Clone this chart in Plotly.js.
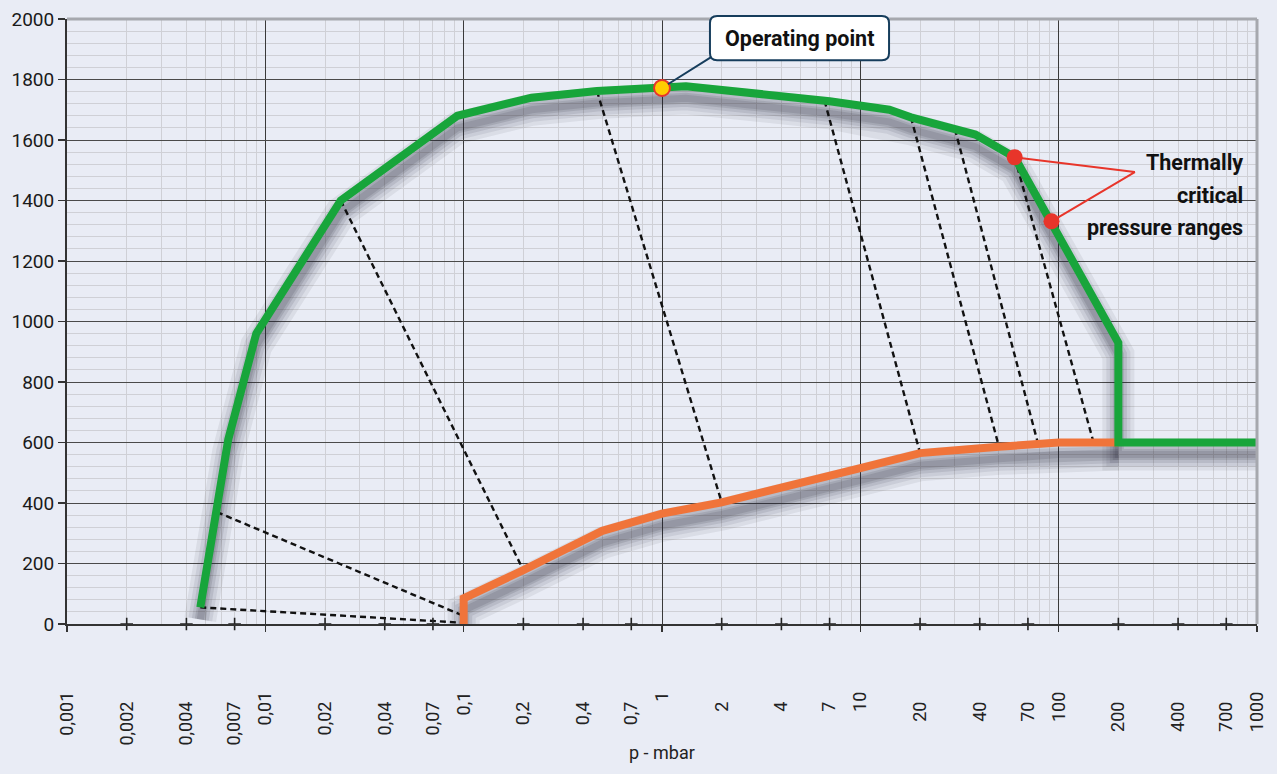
<!DOCTYPE html>
<html>
<head>
<meta charset="utf-8">
<script src="https://cdn.plot.ly/plotly-3.0.1.min.js"></script>
<style>
  html, body { margin: 0; padding: 0; background: #e9ecf5; }
  #chart { width: 1277px; height: 774px; }
</style>
</head>
<body>
<div id="chart"></div>
<script>
// ---- data ----
const greenP = [0.0047, 0.0065, 0.009, 0.024, 0.093, 0.22, 0.47, 1, 1.32, 7, 10, 14, 18, 30, 38, 60, 200, 200, 1000];
const greenT = [55, 610, 960, 1400, 1680, 1740, 1762, 1772, 1778, 1728, 1716, 1700, 1675, 1636, 1618, 1543, 930, 600, 600];

const orangeP = [0.1, 0.1, 0.2, 0.5, 1, 2, 10, 20, 50, 80, 100, 200];
const orangeT = [0, 85, 178, 308, 365, 402, 515, 565, 586, 592, 600, 600];

const dashFromP = [0.0047, 0.0057, 0.024, 0.47, 6.6, 18, 30, 60];
const dashFromT = [55, 370, 1400, 1762, 1730, 1675, 1636, 1543];
const dashToP   = [0.1, 0.099, 0.2, 2, 20, 50, 79, 150];
const dashToT   = [4, 28, 178, 402, 565, 586, 592, 600];

const criticalP = [60, 92];
const criticalT = [1543, 1331];
const calloutApexP = 242;
const calloutApexT = 1494;

const operatingP = [1];
const operatingT = [1772];

const decadeVals = [0.001, 0.01, 0.1, 1, 10, 100, 1000];
const decadeText = ['0,001', '0,01', '0,1', '1', '10', '100', '1000'];
const midVals = [0.002, 0.004, 0.007, 0.02, 0.04, 0.07, 0.2, 0.4, 0.7, 2, 4, 7, 20, 40, 70, 200, 400, 700];
const midText = ['0,002', '0,004', '0,007', '0,02', '0,04', '0,07', '0,2', '0,4', '0,7', '2', '4', '7', '20', '40', '70', '200', '400', '700'];
const yTickVals = [0, 200, 400, 600, 800, 1000, 1200, 1400, 1600, 1800, 2000];

// ---- build ----
const minorGrid = [];
decadeVals.slice(0, -1).forEach(d => { for (let k = 2; k <= 9; k++) minorGrid.push(d * k); });

const dashX = [], dashY = [];
dashFromP.forEach((p, i) => {
  dashX.push(p, dashToP[i], null);
  dashY.push(dashFromT[i], dashToT[i], null);
});

const FONT = 'Roboto, "Open Sans", sans-serif';
const bg = '#e9ecf5';
const GREEN = '#18a53b';
const ORANGE = '#f0743a';

// soft drop shadow: same data drawn on a slightly offset, hidden axis (y), underneath the real lines (y2)
const shadowLayers = [[32, 0.07], [24, 0.08], [17, 0.10], [11, 0.12], [7, 0.12]];
const shadowTraces = [];
[[orangeP, orangeT], [greenP, greenT]].forEach(([px, py]) => {
  shadowLayers.forEach(([w, a]) => {
    shadowTraces.push({ x: px, y: py, xaxis: 'x', yaxis: 'y', mode: 'lines',
      line: { color: `rgba(30,30,48,${a})`, width: w }, hoverinfo: 'skip' });
  });
});

const traces = shadowTraces.concat([
  { x: dashX, y: dashY, yaxis: 'y2', mode: 'lines', line: { color: '#111', width: 2.4, dash: '6px,4px' }, hoverinfo: 'skip' },
  { x: orangeP, y: orangeT, yaxis: 'y2', mode: 'lines', line: { color: ORANGE, width: 8 }, hoverinfo: 'skip' },
  { x: greenP, y: greenT, yaxis: 'y2', mode: 'lines', line: { color: GREEN, width: 8 }, hoverinfo: 'skip' },
  { x: [criticalP[0], calloutApexP, criticalP[1]], y: [criticalT[0], calloutApexT, criticalT[1]], yaxis: 'y2',
    mode: 'lines', line: { color: '#e8352a', width: 2 }, hoverinfo: 'skip' },
  { x: criticalP, y: criticalT, yaxis: 'y2', mode: 'markers', marker: { color: '#e8352a', size: 16 }, hoverinfo: 'skip', cliponaxis: false },
  { x: operatingP, y: operatingT, yaxis: 'y2', mode: 'markers', marker: { color: '#ffcc00', size: 16, line: { color: '#e8352a', width: 2 } }, hoverinfo: 'skip', cliponaxis: false },
  { x: midVals, y: midVals.map(() => 0), xaxis: 'x2', yaxis: 'y2', mode: 'markers',
    marker: { symbol: 'cross-thin-open', size: 9, color: '#222', line: { color: '#222', width: 1.6 } }, hoverinfo: 'skip', cliponaxis: false }
]);

// paper coords of the rounded label box
const bx0 = 0.5403, bx1 = 0.6908, by0 = 0.932, by1 = 1.005, rx = 0.006, ry = 0.012;
const boxPath = `M ${bx0 + rx},${by1} L ${bx1 - rx},${by1} Q ${bx1},${by1} ${bx1},${by1 - ry} L ${bx1},${by0 + ry} Q ${bx1},${by0} ${bx1 - rx},${by0} L ${bx0 + rx},${by0} Q ${bx0},${by0} ${bx0},${by0 + ry} L ${bx0},${by1 - ry} Q ${bx0},${by1} ${bx0 + rx},${by1} Z`;

const layout = {
  width: 1277, height: 774,
  margin: { l: 67, r: 20, t: 19, b: 150 },
  paper_bgcolor: bg, plot_bgcolor: bg,
  showlegend: false,
  font: { family: FONT, color: '#1a1a1a' },
  xaxis: {
    type: 'log', range: [-3, 3], anchor: 'y',
    tickmode: 'array', tickvals: decadeVals, ticktext: decadeText,
    tickangle: -90, tickfont: { size: 18, color: '#222' },
    ticks: 'outside', ticklen: 6, tickcolor: '#333', tickwidth: 1.2,
    ticklabelstandoff: 53,
    showgrid: true, gridcolor: '#3a3a3a', gridwidth: 1,
    minor: { tickmode: 'array', tickvals: minorGrid, showgrid: true, gridcolor: '#cfd0d6', gridwidth: 1, ticks: '' },
    showline: true, linecolor: '#333', linewidth: 1.5,
    zeroline: false, fixedrange: true
  },
  xaxis2: {
    type: 'log', range: [-3, 3], overlaying: 'x', anchor: 'y', side: 'bottom',
    tickmode: 'array', tickvals: midVals, ticktext: midText,
    tickangle: -90, tickfont: { size: 18, color: '#222' },
    ticks: '', ticklabelstandoff: 73,
    showgrid: false, showline: false, zeroline: false, fixedrange: true
  },
  // hidden axis for the shadow, shifted so the shadow sits ~12px below the lines
  yaxis: {
    range: [40, 2040], visible: false, showgrid: false, zeroline: false, fixedrange: true
  },
  yaxis2: {
    overlaying: 'y', side: 'left', anchor: 'x',
    range: [0, 2000], tickmode: 'array', tickvals: yTickVals,
    tickfont: { size: 19, color: '#1a1a1a' },
    ticks: 'outside', ticklen: 7, tickcolor: '#333', tickwidth: 1.2,
    showgrid: true, gridcolor: '#4a4a4a', gridwidth: 1,
    minor: { dtick: 40, showgrid: true, gridcolor: '#cfd0d6', gridwidth: 1, ticks: '' },
    showline: true, linecolor: '#333', linewidth: 2,
    zeroline: false, fixedrange: true
  },
  shapes: [
    { type: 'line', xref: 'paper', yref: 'paper', x0: 0, x1: 1, y0: 1, y1: 1, line: { color: '#a6a8ae', width: 3 }, layer: 'above' },
    { type: 'line', xref: 'paper', yref: 'paper', x0: 1, x1: 1, y0: 0, y1: 1, line: { color: '#a6a8ae', width: 3 }, layer: 'above' },
    { type: 'path', xref: 'paper', yref: 'paper', path: boxPath, fillcolor: '#ffffff', line: { color: '#163d5c', width: 2 }, layer: 'above' }
  ],
  annotations: [
    { x: Math.log10(operatingP[0]), y: operatingT[0], xref: 'x', yref: 'y2', text: '', showarrow: true,
      arrowhead: 0, arrowwidth: 2, arrowcolor: '#163d5c', ax: 51, ay: -32, standoff: 7 },
    { xref: 'paper', yref: 'paper', x: (bx0 + bx1) / 2, y: (by0 + by1) / 2, xanchor: 'center', yanchor: 'middle',
      text: '<b>Operating point</b>', showarrow: false, font: { size: 21.5, color: '#111', family: FONT } },
    { xref: 'paper', yref: 'paper', x: 0.9899, y: 0.762, xanchor: 'right', yanchor: 'middle',
      text: '<b>Thermally</b>', showarrow: false, font: { size: 21.5, color: '#111', family: FONT } },
    { xref: 'paper', yref: 'paper', x: 0.9899, y: 0.709, xanchor: 'right', yanchor: 'middle',
      text: '<b>critical</b>', showarrow: false, font: { size: 21.5, color: '#111', family: FONT } },
    { xref: 'paper', yref: 'paper', x: 0.9899, y: 0.656, xanchor: 'right', yanchor: 'middle',
      text: '<b>pressure ranges</b>', showarrow: false, font: { size: 21.5, color: '#111', family: FONT } },
    { xref: 'paper', yref: 'paper', x: 0.5, y: -0.2116, xanchor: 'center', yanchor: 'middle',
      text: 'p - mbar', showarrow: false, font: { size: 18, color: '#222', family: FONT } }
  ]
};

Plotly.newPlot('chart', traces, layout, { staticPlot: true, displayModeBar: false });
</script>
</body>
</html>
